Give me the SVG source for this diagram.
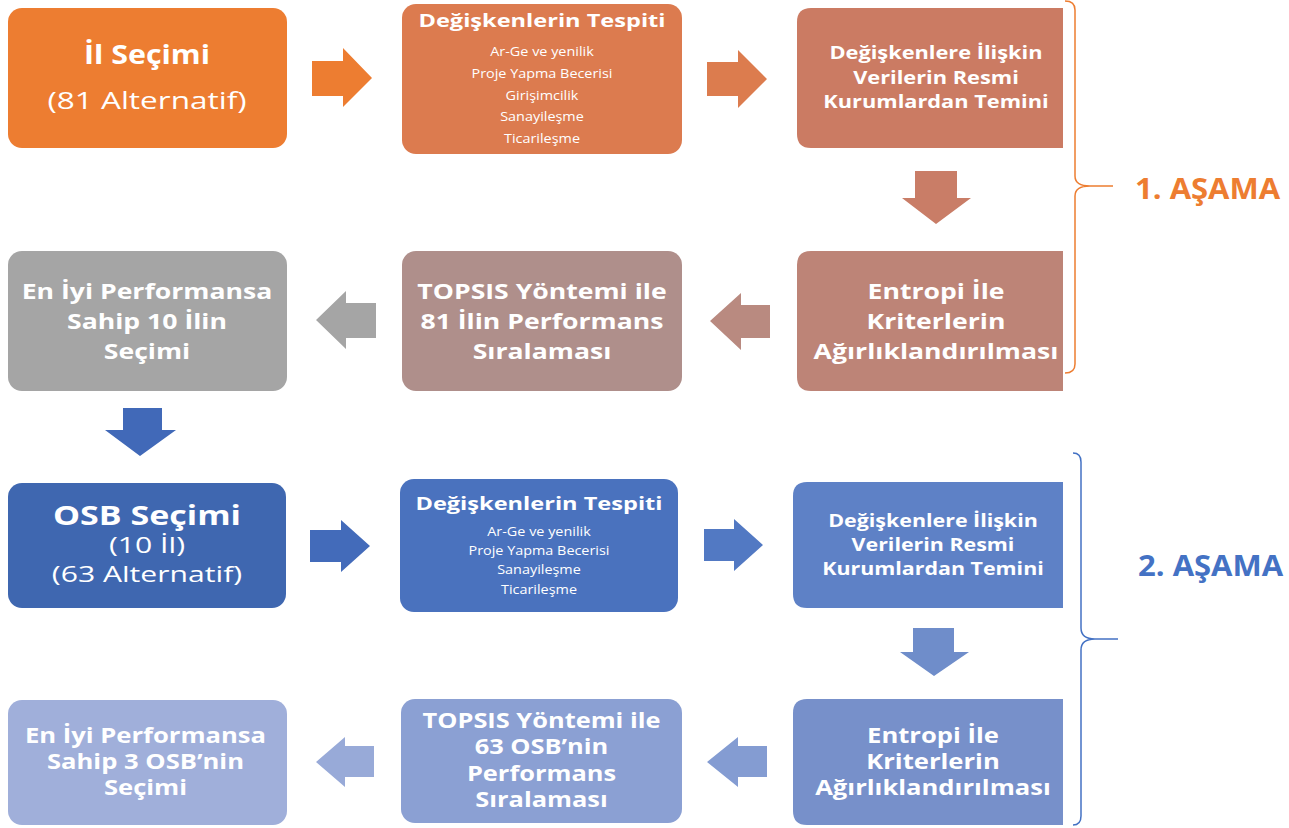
<svg xmlns="http://www.w3.org/2000/svg" width="1289" height="828" viewBox="0 0 1289 828">
<style>
text{font-family:"Open Sans",Lato,"DejaVu Sans",sans-serif;fill:#fff;text-anchor:middle}
.b{font-weight:bold}
.t18{font-size:18px;font-weight:bold}
.t21{font-size:22px;font-weight:bold}
.t20{font-size:21px;font-weight:bold}
.it{font-size:12px}
.stage{font-size:29px;font-weight:bold;text-anchor:start}
.brace{fill:none;stroke-width:1.5}
</style>
<rect width="1289" height="828" fill="#fff"/>
<g id="connectors">
<polygon points="312,61 343,61 343,48 372,78 343,107 343,96 312,96" fill="#ED7D31"/>
<polygon points="707,62 738,62 738,50 767,79 738,108 738,96 707,96" fill="#DC7C4E"/>
<polygon points="915,171 957,171 957,198 971,198 936,224 902,198 915,198" fill="#C97D67"/>
<polygon points="770,305 741,305 741,293 710,321 741,350 741,338 770,338" fill="#B98A80"/>
<polygon points="376,303 346,303 346,291 316,320 346,349 346,338 376,338" fill="#A5A5A5"/>
<polygon points="123,408 162,408 162,430 176,430 140,456 105,430 123,430" fill="#4169B8"/>
<polygon points="310,530 341,530 341,520 370,546 341,572 341,562 310,562" fill="#436BBA"/>
<polygon points="704,529 734,529 734,519 763,545 734,571 734,561 704,561" fill="#5279C3"/>
<polygon points="913,628 954,628 954,652 969,652 934,676 900,652 913,652" fill="#6F8DCA"/>
<polygon points="767,746 738,746 738,737 707,762 738,787 738,777 767,777" fill="#849CD2"/>
<polygon points="374,746 345,746 345,737 316,762 345,787 345,777 374,777" fill="#98AAD8"/>
</g>
<g id="n1">
<rect x="8" y="8" width="279" height="140" rx="14" fill="#ED7D31"/>
<text x="147" y="64" class="b" style="font-size:26px" transform="matrix(1.17 0 0 1 -24.99 0)">İl Seçimi</text>
<text x="147" y="109" style="font-size:23px" transform="matrix(1.37 0 0 1 -54.39 0)">(81 Alternatif)</text>
</g>
<g id="n2">
<rect x="402" y="4" width="280" height="150" rx="14" fill="#DC7B4F"/>
<text x="542" y="27" class="t18" transform="matrix(1.31 0 0 1 -168.02 0)">Değişkenlerin Tespiti</text>
<g transform="matrix(1.2 0 0 1 -108.4 0)">
<text x="542" y="56" class="it">Ar-Ge ve yenilik</text>
<text x="542" y="78" class="it">Proje Yapma Becerisi</text>
<text x="542" y="100" class="it">Girişimcilik</text>
<text x="542" y="121" class="it">Sanayileşme</text>
<text x="542" y="143" class="it">Ticarileşme</text>
</g>
</g>
<g id="n3">
<path d="M811,8 H1063 V148 H811 Q797,148 797,134 V22 Q797,8 811,8 Z" fill="#CB7B63"/>
<g transform="matrix(1.21 0 0 1 -196.56 0)">
<text x="936" y="59" class="t18">Değişkenlere İlişkin</text>
<text x="936" y="84" class="t18">Verilerin Resmi</text>
<text x="936" y="108" class="t18">Kurumlardan Temini</text>
</g>
</g>
<g id="n4">
<path d="M811,251 H1063 V391 H811 Q797,391 797,377 V265 Q797,251 811,251 Z" fill="#BD8477"/>
<g transform="matrix(1.21 0 0 1 -196.56 0)">
<text x="936" y="299" class="t21">Entropi İle</text>
<text x="936" y="329" class="t21">Kriterlerin</text>
<text x="936" y="359" class="t21">Ağırlıklandırılması</text>
</g>
</g>
<g id="n5">
<rect x="402" y="251" width="280" height="140" rx="14" fill="#AF8F8B"/>
<g transform="matrix(1.21 0 0 1 -113.82 0)">
<text x="542" y="299" class="t21">TOPSIS Yöntemi ile</text>
<text x="542" y="329" class="t21">81 İlin Performans</text>
<text x="542" y="359" class="t21">Sıralaması</text>
</g>
</g>
<g id="n6">
<rect x="8" y="251" width="279" height="140" rx="14" fill="#A5A5A5"/>
<g transform="matrix(1.21 0 0 1 -30.87 0)">
<text x="147" y="299" class="t21">En İyi Performansa</text>
<text x="147" y="329" class="t21">Sahip 10 İlin</text>
<text x="147" y="359" class="t21">Seçimi</text>
</g>
</g>
<g id="n7">
<rect x="8" y="483" width="278" height="125" rx="14" fill="#3F67B0"/>
<text x="147" y="525" class="b" style="font-size:27px" transform="matrix(1.26 0 0 1 -38.22 0)">OSB Seçimi</text>
<g transform="matrix(1.435 0 0 1 -63.945 0)">
<text x="147" y="553" style="font-size:21px">(10 İl)</text>
<text x="147" y="582" style="font-size:21px">(63 Alternatif)</text>
</g>
</g>
<g id="n8">
<rect x="400" y="479" width="278" height="133" rx="14" fill="#4A72BE"/>
<text x="539" y="510" class="t18" transform="matrix(1.31 0 0 1 -167.09 0)">Değişkenlerin Tespiti</text>
<g transform="matrix(1.2 0 0 1 -107.8 0)">
<text x="539" y="536" class="it">Ar-Ge ve yenilik</text>
<text x="539" y="555" class="it">Proje Yapma Becerisi</text>
<text x="539" y="574" class="it">Sanayileşme</text>
<text x="539" y="594" class="it">Ticarileşme</text>
</g>
</g>
<g id="n9">
<path d="M807,482 H1063 V608 H807 Q793,608 793,594 V496 Q793,482 807,482 Z" fill="#5E81C6"/>
<g transform="matrix(1.19 0 0 1 -177.27 0)">
<text x="933" y="527" class="t18">Değişkenlere İlişkin</text>
<text x="933" y="551" class="t18">Verilerin Resmi</text>
<text x="933" y="575" class="t18">Kurumlardan Temini</text>
</g>
</g>
<g id="n10">
<path d="M807,699 H1063 V825 H807 Q793,825 793,811 V713 Q793,699 807,699 Z" fill="#7790CA"/>
<g transform="matrix(1.22 0 0 1 -205.26 0)">
<text x="933" y="743" class="t20">Entropi İle</text>
<text x="933" y="769" class="t20">Kriterlerin</text>
<text x="933" y="795" class="t20">Ağırlıklandırılması</text>
</g>
</g>
<g id="n11">
<rect x="401" y="699" width="281" height="124" rx="14" fill="#8BA0D3"/>
<g transform="matrix(1.21 0 0 1 -113.715 0)">
<text x="541.5" y="728" class="t20">TOPSIS Yöntemi ile</text>
<text x="541.5" y="754" class="t20">63 OSB’nin</text>
<text x="541.5" y="781" class="t20">Performans</text>
<text x="541.5" y="807" class="t20">Sıralaması</text>
</g>
</g>
<g id="n12">
<rect x="8" y="700" width="279" height="125" rx="14" fill="#A0AFDA"/>
<g transform="matrix(1.22 0 0 1 -32.01 0)">
<text x="145.5" y="743" class="t20">En İyi Performansa</text>
<text x="145.5" y="769" class="t20">Sahip 3 OSB’nin</text>
<text x="145.5" y="795" class="t20">Seçimi</text>
</g>
</g>
<g id="stage1">
<path class="brace" stroke="#ED7D31" d="M1065,1 Q1075,1 1075,10 V176 Q1075,186 1090,186 H1113 H1090 Q1075,186 1075,196 V364 Q1075,373 1065,373"/>
<text x="1135" y="199" class="stage" style="fill:#ED7D31" transform="matrix(1.07 0 0 1 -79.45 0)">1. AŞAMA</text>
</g>
<g id="stage2">
<path class="brace" stroke="#4472C4" d="M1073,453 Q1081,453 1081,462 V628 Q1081,639 1095,639 H1118 H1095 Q1081,639 1081,650 V816 Q1081,825 1073,825"/>
<text x="1138" y="576" class="stage" style="fill:#4472C4" transform="matrix(1.07 0 0 1 -79.66 0)">2. AŞAMA</text>
</g>
</svg>
